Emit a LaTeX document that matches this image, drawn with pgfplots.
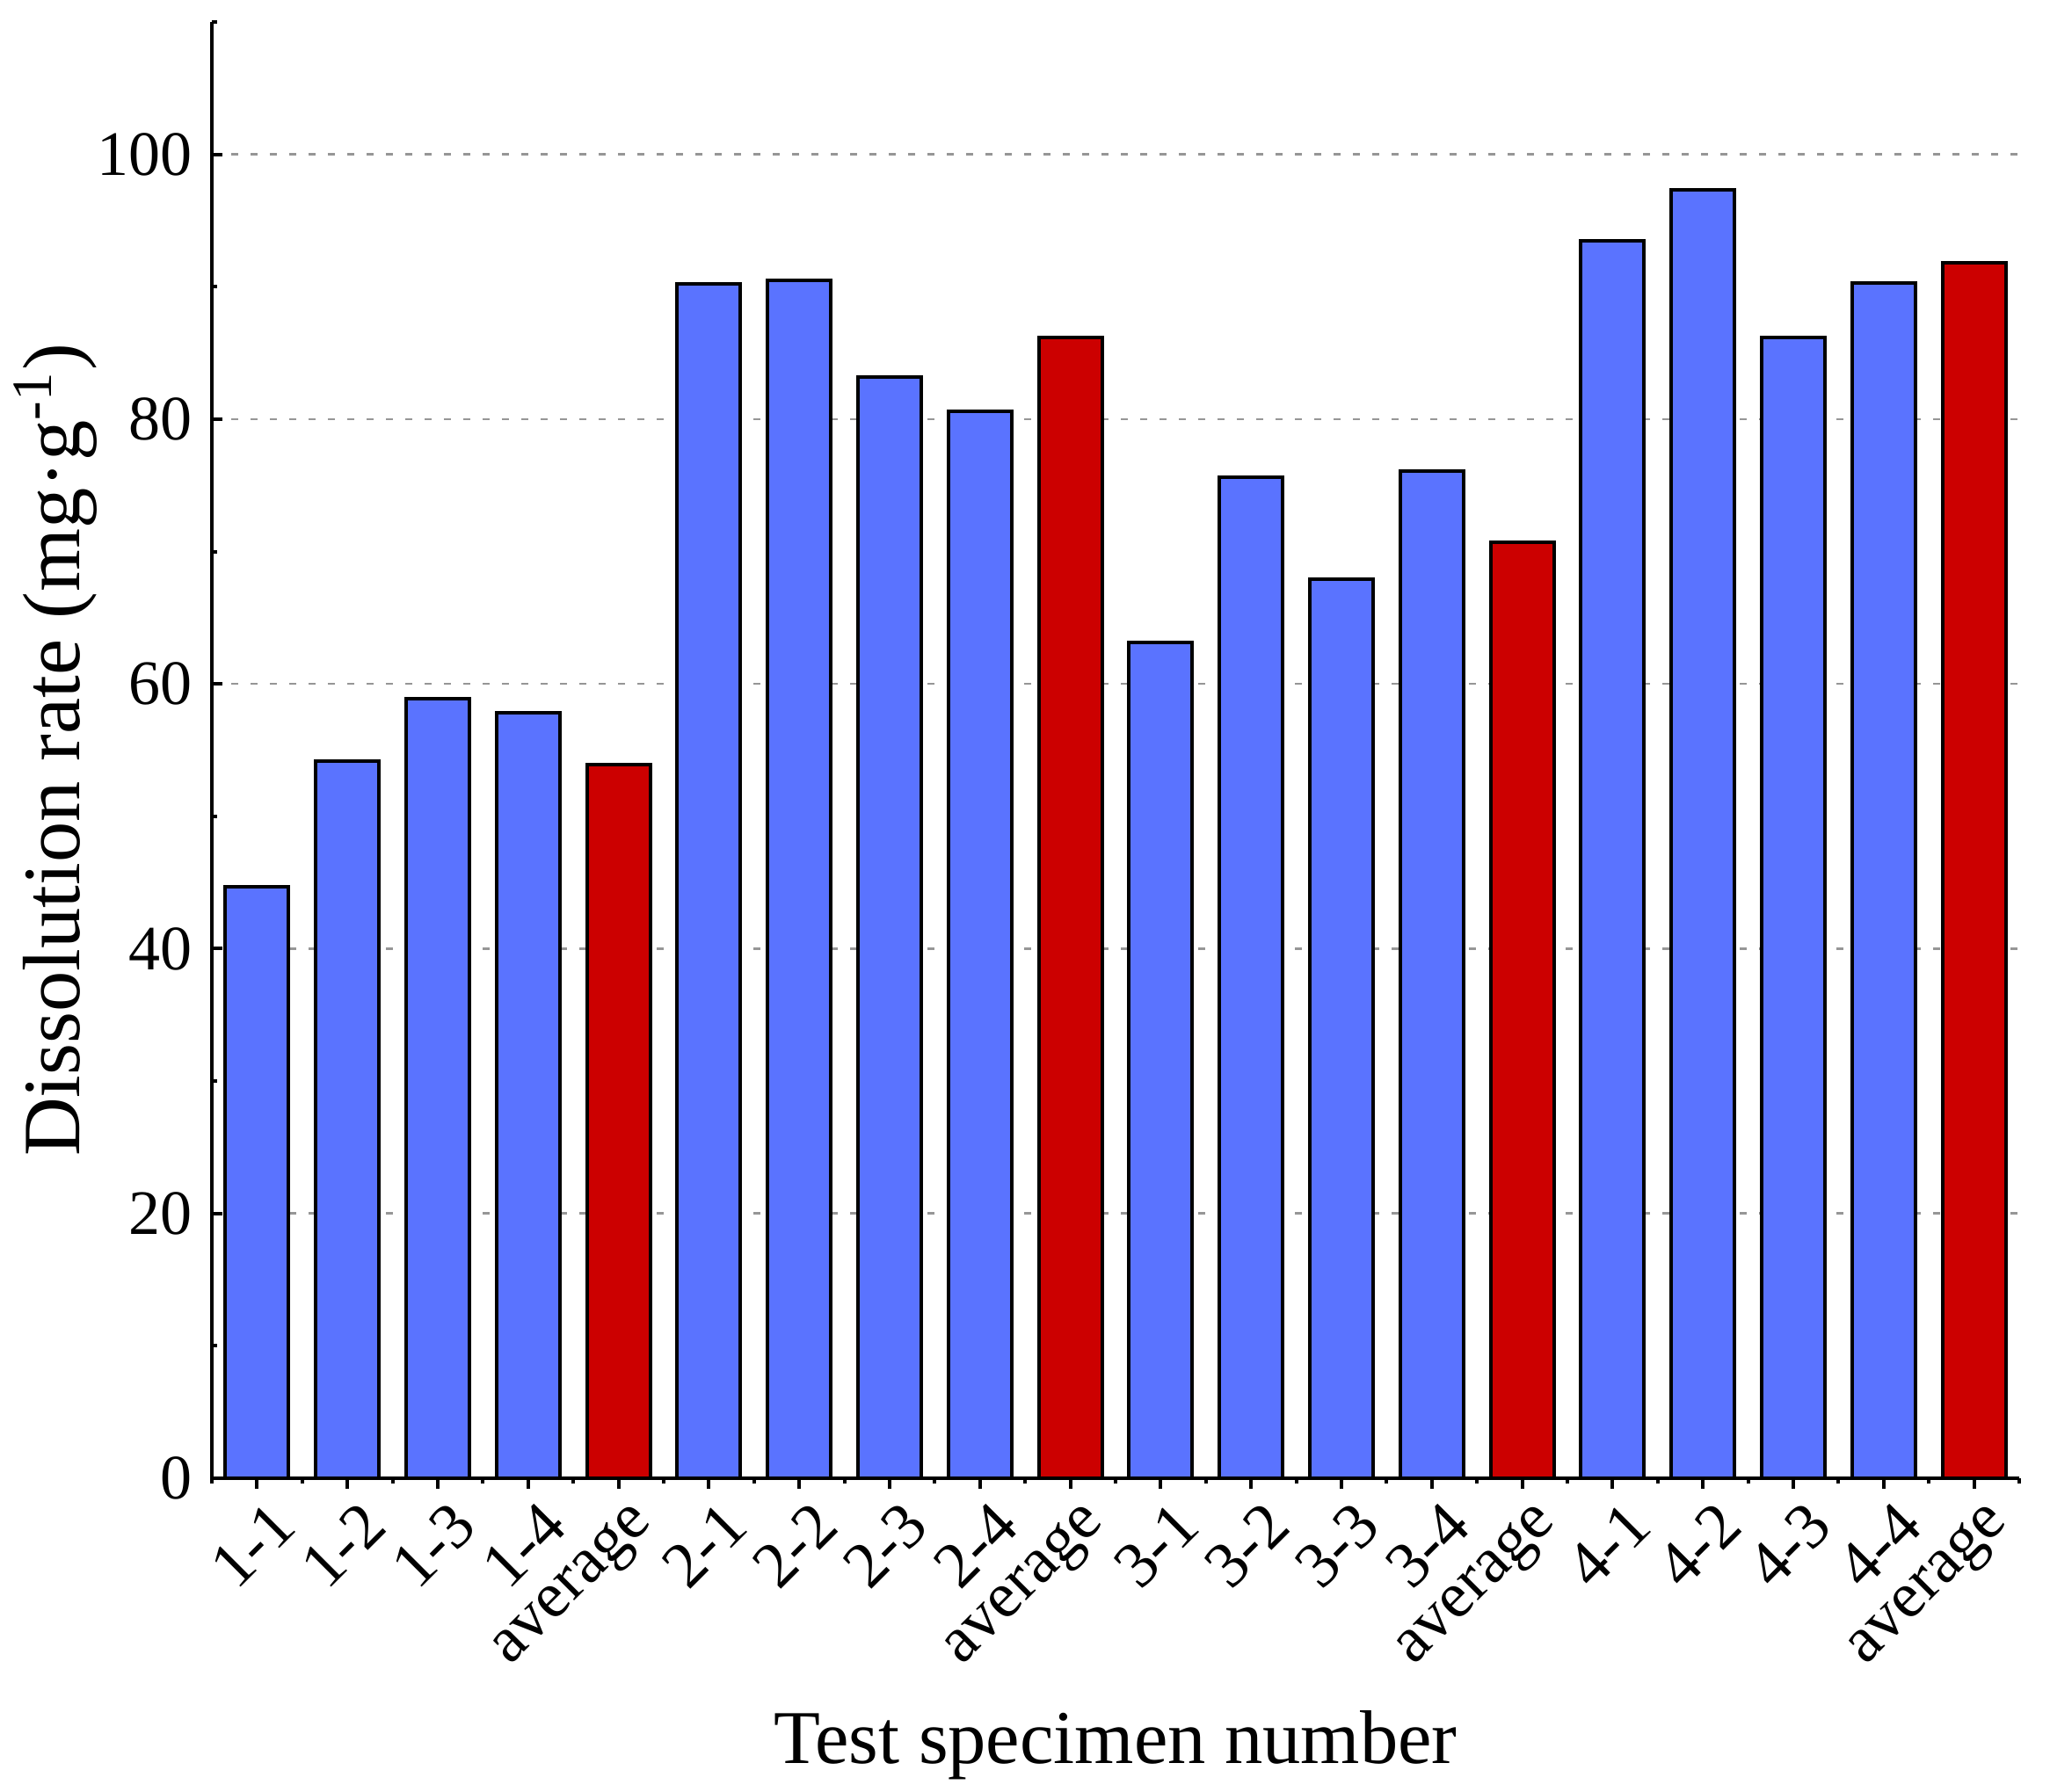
\documentclass[border=0pt]{standalone}
\usepackage{pgfplots}
\pgfplotsset{compat=1.18}
\usepackage{fontspec}
\setmainfont{Liberation Serif}
\definecolor{barblue}{RGB}{90,115,255}
\definecolor{barred}{RGB}{204,0,0}
\definecolor{gridgray}{RGB}{150,150,150}
\begin{document}
\begin{tikzpicture}
\path[use as bounding box] (-48.2pt,-71.2pt) rectangle (418.2pt,336.4pt);
\begin{axis}[
  at={(0pt,0pt)}, anchor=south west,
  scale only axis,
  width=411.2pt, height=331.4pt,
  xmin=-0.5, xmax=19.5,
  ymin=0, ymax=110,
  axis x line*=bottom, axis y line*=left,
  axis line style={line width=0.8pt, black},
  xtick={0,...,19},
  xticklabels={1-1,1-2,1-3,1-4,average,2-1,2-2,2-3,2-4,average,3-1,3-2,3-3,3-4,average,4-1,4-2,4-3,4-4,average},
  minor xtick={-0.5,0.5,...,19.5},
  ytick={0,20,...,100},
  minor ytick={10,30,...,110},
  tick align=inside,
  major tick length=2.4pt,
  minor tick length=1.2pt,
  tick style={line width=0.8pt, black},
  ymajorgrids,
  grid style={dashed, gridgray, line width=0.5pt, dash pattern=on 1.6pt off 2.8pt},
  /pgf/number format/assume math mode=true,
  yticklabel style={font=\fontsize{14.4}{17}\selectfont, xshift=-1pt},
  xticklabel style={font=\fontsize{14.8}{17}\selectfont, xshift=2.5pt, rotate=45, anchor=north east, inner sep=1.5pt},
  xlabel={Test specimen number},
  ylabel={Dissolution rate (mg·g\textsuperscript{-1})},
  xlabel style={font=\fontsize{17.3}{20}\selectfont, at={(axis description cs:0.5,-0.1835)}, anchor=center},
  ylabel style={font=\fontsize{18.5}{21}\selectfont, at={(axis description cs:-0.0866,0.5)}, anchor=center, rotate=0},
  ybar, bar width=0.7,
  clip=false,
]
\addplot[ybar, bar shift=0pt, fill=barblue, draw=black, line width=0.8pt] coordinates {
(0,44.7) (1,54.2) (2,58.9) (3,57.8)
(5,90.2) (6,90.5) (7,83.2) (8,80.6)
(10,63.1) (11,75.6) (12,67.9) (13,76.1)
(15,93.5) (16,97.3) (17,86.2) (18,90.3)
};
\addplot[ybar, bar shift=0pt, fill=barred, draw=black, line width=0.8pt] coordinates {
(4,53.9) (9,86.2) (14,70.7) (19,91.8)
};
\end{axis}
\end{tikzpicture}
\end{document}
